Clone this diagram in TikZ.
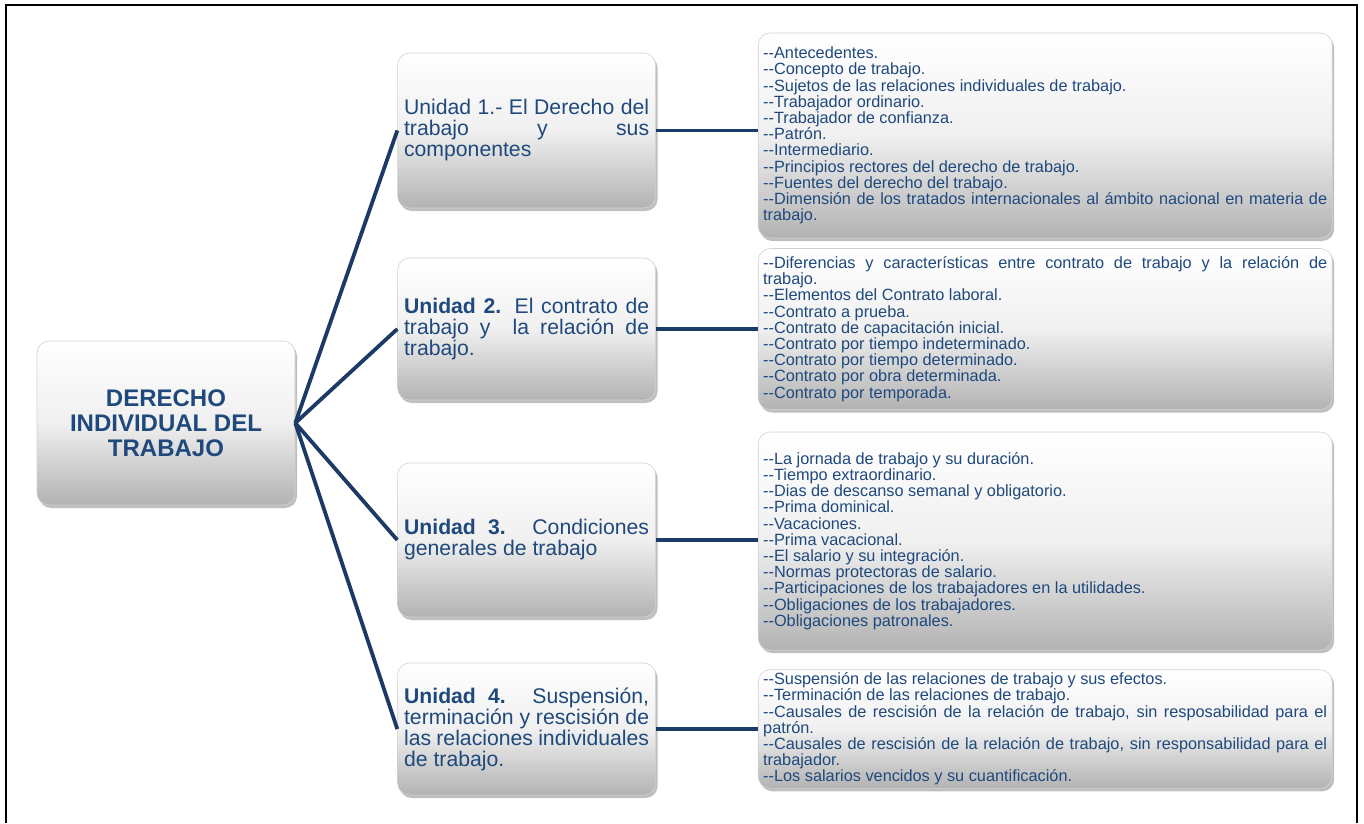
\documentclass[tikz,border=0pt]{standalone}
\usepackage{xcolor}
\usepackage{fontspec}
\setmainfont{Liberation Sans}
\newfontfamily\listafont[Ligatures=TeXOff]{Liberation Sans}
\usepackage{tikz}
\usetikzlibrary{shapes,arrows,positioning,shadows}

\definecolor{textoazul}{HTML}{1F497D}
\definecolor{lineaazul}{HTML}{1B3A66}

\hyphenpenalty=10000
\exhyphenpenalty=10000
\tolerance=9999

\begin{document}
\begin{tikzpicture}[x=1pt, y=-1pt, node distance=102pt,
	caja/.style={rectangle, rounded corners=12pt, draw=black!18, line width=0.6pt,
		top color=white, bottom color=black!30, middle color=black!6,
		drop shadow={shadow xshift=2pt, shadow yshift=-3pt, opacity=0.5},
		text=textoazul},
	unidad/.style={caja, text width=245pt, inner xsep=6.5pt, align=justify,
		font=\fontsize{21.2}{21}\selectfont},
	temas/.style={caja, text width=564pt, inner xsep=5pt, inner ysep=3pt, align=justify,
		font=\listafont\fontsize{16.3}{16.2}\selectfont},
	enlace/.style={draw=lineaazul, line width=3.8pt}]
				\useasboundingbox (0,0) rectangle (1364,823);
				\draw[line width=2pt] (5.5,823) -- (5.5,5) -- (1357,5) -- (1357,823);
				
				\node[caja, minimum width=258pt, minimum height=164pt, align=center,
					font=\bfseries\fontsize{24}{25}\selectfont] (dit) at (166,423) {DERECHO\\INDIVIDUAL DEL\\TRABAJO};
				
				% unidades
				\node[unidad, minimum height=155pt, right=of dit, yshift=292.5pt] (u1) {Unidad 1.- El Derecho del\linebreak trabajo y sus componentes};
				\node[unidad, minimum height=142pt, right=of dit, yshift=94pt] (u2) {\textbf{Unidad 2.} El contrato de trabajo y\ \ la relación de trabajo.};
				\node[unidad, minimum height=154pt, right=of dit, yshift=-117pt] (u3) {\textbf{Unidad 3.} Condiciones generales de trabajo};
				\node[unidad, minimum height=132pt, right=of dit, yshift=-306pt] (u4) {\textbf{Unidad 4.} Suspensión, terminación y rescisión de las relaciones individuales de trabajo.};
				
				% temas
				\node[temas, minimum height=205pt, right=of u1, yshift=-5pt] (t1) {--Antecedentes.\\--Concepto de trabajo.\\--Sujetos de las relaciones individuales de trabajo.\\--Trabajador ordinario.\\--Trabajador de confianza.\\--Patrón.\\--Intermediario.\\--Principios rectores del derecho de trabajo.\\--Fuentes del derecho del trabajo.\\--Dimensión de los tratados internacionales al ámbito nacional en materia de trabajo.};
				\node[temas, minimum height=161pt, right=of u2] (t2) {--Diferencias y características entre contrato de trabajo y la relación de\linebreak trabajo.\\--Elementos del Contrato laboral.\\--Contrato a prueba.\\--Contrato de capacitación inicial.\\--Contrato por tiempo indeterminado.\\--Contrato por tiempo determinado.\\--Contrato por obra determinada.\\--Contrato por temporada.};
				\node[temas, minimum height=218pt, right=of u3, yshift=-1pt] (t3) {--La jornada de trabajo y su duración.\\--Tiempo extraordinario.\\--Dias de descanso semanal y obligatorio.\\--Prima dominical.\\--Vacaciones.\\--Prima vacacional.\\--El salario y su integración.\\--Normas protectoras de salario.\\--Participaciones de los trabajadores en la utilidades.\\--Obligaciones de los trabajadores.\\--Obligaciones patronales.};
				\node[temas, minimum height=117pt, right=of u4] (t4) {--Suspensión de las relaciones de trabajo y sus efectos.\\--Terminación de las relaciones de trabajo.\\--Causales de rescisión de la relación de trabajo, sin resposabilidad para el patrón.\\--Causales de rescisión de la relación de trabajo, sin responsabilidad para el trabajador.\\--Los salarios vencidos y su cuantificación.};
				
				\foreach \u/\t in {u1/t1, u2/t2, u3/t3, u4/t4} {
					\draw[enlace] (dit.east) -- (\u.west);
					\draw[enlace] (\u.east) -- (\u.east -| \t.west);
				}
			\end{tikzpicture}
\end{document}
